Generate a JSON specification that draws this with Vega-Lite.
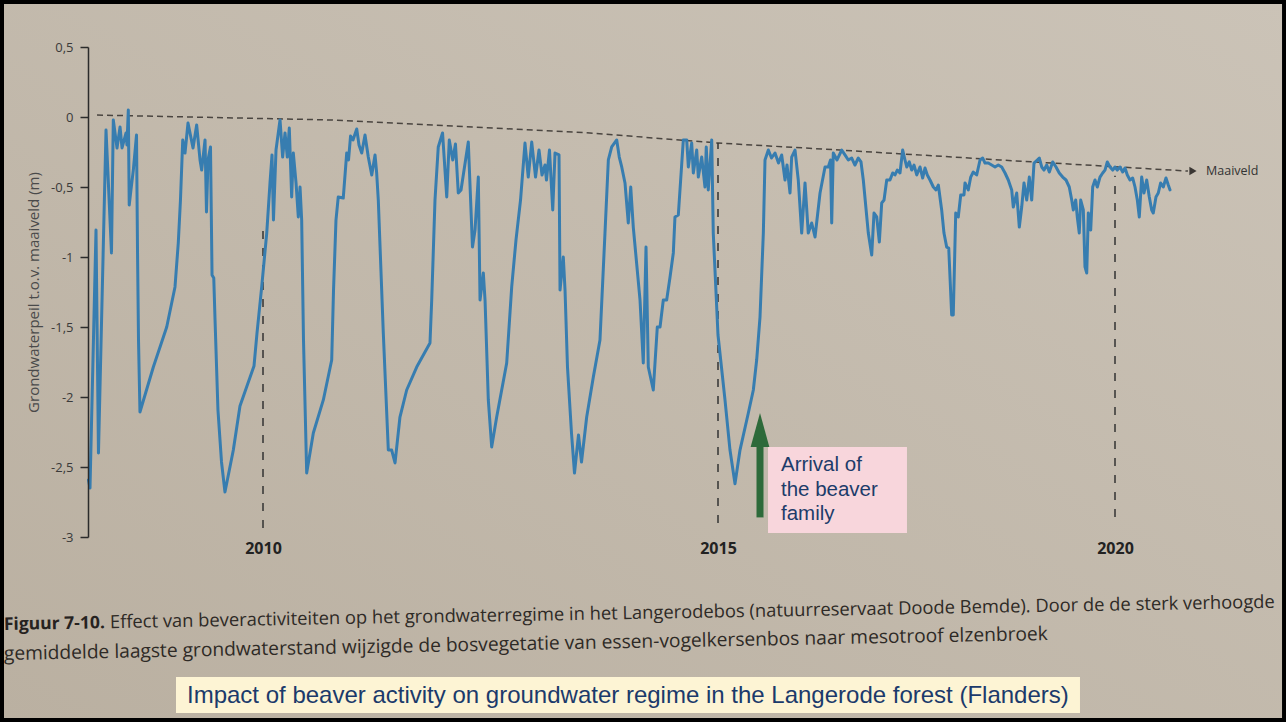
{
"$schema": "https://vega.github.io/schema/vega-lite/v6.json",
"width": 1182,
"height": 490,
"autosize": {"type": "none"},
"padding": {"left": 88, "top": 47, "right": 16, "bottom": 185},
"background": "#c3baad",
"config": {"view": {"stroke": null}, "axis": {"zindex": 1, "grid": false}, "font": "Open Sans"},
"datasets": {
"curve": [
{"year":2008.082,"level":-2.593},{"year":2008.099,"level":-2.65},{"year":2008.165,"level":-0.807},{"year":2008.192,"level":-2.4},{"year":2008.275,"level":-0.093},{"year":2008.335,"level":-0.971},{"year":2008.355,"level":-0.021},{"year":2008.396,"level":-0.221},{"year":2008.429,"level":-0.071},{"year":2008.451,"level":-0.221},{"year":2008.495,"level":-0.114},{"year":2008.505,"level":-0.2},{"year":2008.52,"level":0.05},{"year":2008.53,"level":-0.629},{"year":2008.549,"level":-0.521},{"year":2008.575,"level":-0.379},{"year":2008.61,"level":-0.129},{"year":2008.621,"level":-0.95},{"year":2008.632,"level":-1.593},{"year":2008.648,"level":-2.107},
{"year":2008.795,"level":-1.786},{"year":2008.942,"level":-1.5},{"year":2009.033,"level":-1.214},{"year":2009.069,"level":-0.9},{"year":2009.093,"level":-0.593},{"year":2009.118,"level":-0.164},{"year":2009.143,"level":-0.257},{"year":2009.176,"level":-0.043},{"year":2009.231,"level":-0.221},{"year":2009.271,"level":-0.057},{"year":2009.308,"level":-0.307},{"year":2009.326,"level":-0.379},{"year":2009.363,"level":-0.164},{"year":2009.379,"level":-0.679},{"year":2009.396,"level":-0.307},{"year":2009.423,"level":-0.214},{"year":2009.44,"level":-1.129},{"year":2009.459,"level":-1.15},{"year":2009.473,"level":-1.45},{"year":2009.505,"level":-2.093},{"year":2009.544,"level":-2.464},{"year":2009.582,"level":-2.679},
{"year":2009.674,"level":-2.379},{"year":2009.747,"level":-2.064},{"year":2009.821,"level":-1.926},{"year":2009.901,"level":-1.779},{"year":2009.934,"level":-1.543},{"year":2009.986,"level":-1.212},{"year":2010.041,"level":-0.829},{"year":2010.077,"level":-0.471},{"year":2010.099,"level":-0.271},{"year":2010.115,"level":-0.736},{"year":2010.143,"level":-0.236},{"year":2010.187,"level":-0.021},{"year":2010.216,"level":-0.286},{"year":2010.242,"level":-0.114},{"year":2010.267,"level":-0.286},{"year":2010.289,"level":-0.079},{"year":2010.315,"level":-0.571},{"year":2010.333,"level":-0.257},{"year":2010.363,"level":-0.471},{"year":2010.388,"level":-0.714},{"year":2010.407,"level":-0.5},{"year":2010.425,"level":-0.736},{"year":2010.445,"level":-1.593},{"year":2010.48,"level":-2.543},
{"year":2010.553,"level":-2.257},{"year":2010.663,"level":-2.021},{"year":2010.755,"level":-1.736},{"year":2010.775,"level":-1.236},{"year":2010.802,"level":-0.736},{"year":2010.827,"level":-0.571},{"year":2010.882,"level":-0.579},{"year":2010.92,"level":-0.257},{"year":2010.94,"level":-0.307},{"year":2010.962,"level":-0.136},{"year":2010.989,"level":-0.164},{"year":2011.03,"level":-0.086},{"year":2011.055,"level":-0.2},{"year":2011.085,"level":-0.257},{"year":2011.121,"level":-0.129},{"year":2011.157,"level":-0.286},{"year":2011.195,"level":-0.414},{"year":2011.231,"level":-0.271},{"year":2011.249,"level":-0.4},{"year":2011.267,"level":-0.593},{"year":2011.322,"level":-1.543},{"year":2011.377,"level":-2.379},{"year":2011.414,"level":-2.379},{"year":2011.451,"level":-2.471},{"year":2011.505,"level":-2.143},{"year":2011.579,"level":-1.95},{"year":2011.689,"level":-1.786},{"year":2011.835,"level":-1.614},
{"year":2011.854,"level":-1.307},{"year":2011.89,"level":-0.593},{"year":2011.926,"level":-0.214},{"year":2011.973,"level":-0.114},{"year":2012.019,"level":-0.571},{"year":2012.047,"level":-0.164},{"year":2012.085,"level":-0.307},{"year":2012.115,"level":-0.193},{"year":2012.146,"level":-0.543},{"year":2012.176,"level":-0.521},{"year":2012.256,"level":-0.179},{"year":2012.302,"level":-0.929},{"year":2012.33,"level":-0.807},{"year":2012.366,"level":-0.429},{"year":2012.385,"level":-1.307},{"year":2012.421,"level":-1.114},{"year":2012.44,"level":-1.307},{"year":2012.476,"level":-2.021},{"year":2012.513,"level":-2.357},{"year":2012.568,"level":-2.143},{"year":2012.678,"level":-1.757},{"year":2012.733,"level":-1.214},{"year":2012.78,"level":-0.879},{"year":2012.83,"level":-0.593},{"year":2012.879,"level":-0.186},{"year":2012.915,"level":-0.429},{"year":2012.953,"level":-0.179},{"year":2012.995,"level":-0.429},{"year":2013.033,"level":-0.236},{"year":2013.066,"level":-0.414},{"year":2013.099,"level":-0.343},{"year":2013.115,"level":-0.45},{"year":2013.148,"level":-0.236},{"year":2013.184,"level":-0.664},{"year":2013.209,"level":-0.257},{"year":2013.253,"level":-0.271},{"year":2013.264,"level":-1.236},{"year":2013.3,"level":-1.0},{"year":2013.319,"level":-1.236},{"year":2013.346,"level":-1.786},{"year":2013.39,"level":-2.257},{"year":2013.423,"level":-2.543},{"year":2013.467,"level":-2.271},{"year":2013.5,"level":-2.464},{"year":2013.557,"level":-2.143},{"year":2013.63,"level":-1.857},{"year":2013.703,"level":-1.593},{"year":2013.758,"level":-0.829},{"year":2013.795,"level":-0.307},{"year":2013.832,"level":-0.214},{"year":2013.887,"level":-0.164},{"year":2013.915,"level":-0.286},{"year":2013.942,"level":-0.357},{"year":2013.978,"level":-0.471},{"year":2014.014,"level":-0.757},{"year":2014.041,"level":-0.5},{"year":2014.069,"level":-0.786},{"year":2014.143,"level":-1.307},{"year":2014.179,"level":-1.757},{"year":2014.209,"level":-0.929},{"year":2014.234,"level":-1.786},{"year":2014.289,"level":-1.95},{"year":2014.333,"level":-1.5},{"year":2014.363,"level":-1.5},{"year":2014.399,"level":-1.307},{"year":2014.436,"level":-1.307},{"year":2014.473,"level":-1.143},{"year":2014.509,"level":-0.971},{"year":2014.527,"level":-0.714},{"year":2014.564,"level":-0.7},{"year":2014.619,"level":-0.164},{"year":2014.656,"level":-0.164},{"year":2014.674,"level":-0.357},{"year":2014.711,"level":-0.186},{"year":2014.729,"level":-0.4},{"year":2014.766,"level":-0.236},{"year":2014.784,"level":-0.429},{"year":2014.821,"level":-0.286},{"year":2014.857,"level":-0.5},{"year":2014.871,"level":-0.214},{"year":2014.893,"level":-0.521},{"year":2014.931,"level":-0.164},{"year":2014.948,"level":-0.829},{"year":2015.0,"level":-1.557},
{"year":2015.088,"level":-2.021},{"year":2015.151,"level":-2.379},{"year":2015.214,"level":-2.62},{"year":2015.277,"level":-2.379},{"year":2015.382,"level":-2.114},{"year":2015.445,"level":-1.95},{"year":2015.487,"level":-1.736},{"year":2015.529,"level":-1.429},{"year":2015.571,"level":-0.829},{"year":2015.592,"level":-0.307},{"year":2015.634,"level":-0.236},{"year":2015.674,"level":-0.293},{"year":2015.718,"level":-0.257},{"year":2015.762,"level":-0.329},{"year":2015.802,"level":-0.271},{"year":2015.844,"level":-0.45},{"year":2015.869,"level":-0.343},{"year":2015.907,"level":-0.543},{"year":2015.928,"level":-0.286},{"year":2015.97,"level":-0.236},{"year":2016.011,"level":-0.45},{"year":2016.054,"level":-0.829},{"year":2016.096,"level":-0.471},{"year":2016.137,"level":-0.829},{"year":2016.18,"level":-0.757},{"year":2016.222,"level":-0.857},{"year":2016.285,"level":-0.543},{"year":2016.348,"level":-0.357},{"year":2016.389,"level":-0.357},{"year":2016.417,"level":-0.307},{"year":2016.432,"level":-0.757},{"year":2016.452,"level":-0.257},{"year":2016.499,"level":-0.307},{"year":2016.558,"level":-0.236},{"year":2016.599,"level":-0.271},{"year":2016.641,"level":-0.307},{"year":2016.684,"level":-0.293},{"year":2016.725,"level":-0.343},{"year":2016.767,"level":-0.293},{"year":2016.801,"level":-0.321},{"year":2016.83,"level":-0.45},{"year":2016.893,"level":-0.829},{"year":2016.936,"level":-0.986},{"year":2016.965,"level":-0.686},{"year":2016.999,"level":-0.714},{"year":2017.032,"level":-0.893},{"year":2017.062,"level":-0.614},{"year":2017.091,"level":-0.593},{"year":2017.125,"level":-0.45},{"year":2017.166,"level":-0.45},{"year":2017.2,"level":-0.4},{"year":2017.229,"level":-0.414},{"year":2017.258,"level":-0.379},{"year":2017.292,"level":-0.4},{"year":2017.326,"level":-0.236},{"year":2017.355,"level":-0.307},{"year":2017.377,"level":-0.357},{"year":2017.409,"level":-0.321},{"year":2017.44,"level":-0.379},{"year":2017.469,"level":-0.343},{"year":2017.503,"level":-0.414},{"year":2017.544,"level":-0.357},{"year":2017.578,"level":-0.436},{"year":2017.607,"level":-0.364},{"year":2017.636,"level":-0.414},{"year":2017.67,"level":-0.45},{"year":2017.712,"level":-0.5},{"year":2017.746,"level":-0.521},{"year":2017.775,"level":-0.486},{"year":2017.817,"level":-0.664},{"year":2017.846,"level":-0.829},{"year":2017.88,"level":-0.929},{"year":2017.906,"level":-0.936},{"year":2017.943,"level":-1.414},{"year":2017.963,"level":-1.414},{"year":2017.994,"level":-0.686},{"year":2018.026,"level":-0.714},{"year":2018.057,"level":-0.557},{"year":2018.098,"level":-0.557},{"year":2018.111,"level":-0.471},{"year":2018.152,"level":-0.521},{"year":2018.183,"level":-0.429},{"year":2018.215,"level":-0.393},{"year":2018.258,"level":-0.414},{"year":2018.3,"level":-0.307},{"year":2018.334,"level":-0.293},{"year":2018.363,"level":-0.329},{"year":2018.404,"level":-0.329},{"year":2018.447,"level":-0.343},{"year":2018.489,"level":-0.357},{"year":2018.53,"level":-0.343},{"year":2018.573,"level":-0.357},{"year":2018.615,"level":-0.4},{"year":2018.656,"level":-0.45},{"year":2018.699,"level":-0.521},{"year":2018.719,"level":-0.643},{"year":2018.762,"level":-0.543},{"year":2018.795,"level":-0.786},{"year":2018.825,"level":-0.643},{"year":2018.854,"level":-0.471},{"year":2018.888,"level":-0.593},{"year":2018.921,"level":-0.429},{"year":2018.951,"level":-0.593},{"year":2018.98,"level":-0.329},{"year":2019.021,"level":-0.307},{"year":2019.047,"level":-0.293},{"year":2019.077,"level":-0.357},{"year":2019.106,"level":-0.379},{"year":2019.14,"level":-0.343},{"year":2019.173,"level":-0.393},{"year":2019.215,"level":-0.321},{"year":2019.257,"level":-0.357},{"year":2019.298,"level":-0.4},{"year":2019.341,"level":-0.429},{"year":2019.383,"level":-0.45},{"year":2019.424,"level":-0.5},{"year":2019.455,"level":-0.593},{"year":2019.475,"level":-0.664},{"year":2019.505,"level":-0.593},{"year":2019.525,"level":-0.714},{"year":2019.55,"level":-0.829},{"year":2019.568,"level":-0.593},{"year":2019.601,"level":-0.664},{"year":2019.622,"level":-1.071},{"year":2019.644,"level":-1.114},{"year":2019.664,"level":-0.686},{"year":2019.694,"level":-0.807},{"year":2019.719,"level":-0.5},{"year":2019.748,"level":-0.45},{"year":2019.777,"level":-0.5},{"year":2019.811,"level":-0.429},{"year":2019.845,"level":-0.4},{"year":2019.874,"level":-0.379},{"year":2019.903,"level":-0.321},{"year":2019.937,"level":-0.357},{"year":2019.971,"level":-0.379},{"year":2020.0,"level":-0.357},{"year":2020.029,"level":-0.379},{"year":2020.063,"level":-0.357},{"year":2020.097,"level":-0.393},{"year":2020.126,"level":-0.364},{"year":2020.155,"level":-0.414},{"year":2020.189,"level":-0.45},{"year":2020.223,"level":-0.436},{"year":2020.252,"level":-0.5},{"year":2020.281,"level":-0.593},{"year":2020.306,"level":-0.714},{"year":2020.336,"level":-0.429},{"year":2020.365,"level":-0.543},{"year":2020.399,"level":-0.45},{"year":2020.432,"level":-0.571},{"year":2020.462,"level":-0.664},{"year":2020.482,"level":-0.686},{"year":2020.516,"level":-0.571},{"year":2020.545,"level":-0.543},{"year":2020.575,"level":-0.471},{"year":2020.608,"level":-0.5},{"year":2020.642,"level":-0.436},{"year":2020.671,"level":-0.486},{"year":2020.693,"level":-0.521}
],
"maaiveld": [{"year":2008.176,"level":0.014},{"year":2010.736,"level":-0.021},{"year":2013.593,"level":-0.114},{"year":2015,"level":-0.186},{"year":2016.537,"level":-0.236},{"year":2018.552,"level":-0.307},{"year":2020.919,"level":-0.386}],
"maaiveldArrow": [{"year":2020.982,"level":-0.386}],
"maaiveldLabel": [{"year":2021.146,"level":-0.386,"label":"Maaiveld"}],
"yearLines": [{"year":2010,"level":-2.936,"level2":-0.75},{"year":2015,"level":-2.9,"level2":-0.186},{"year":2020,"level":-2.857,"level2":-0.42}],
"page": [{"year":2007.11,"year2":2022.154,"level":0.836,"level2":-4.321}],
"beaverArrow": [{"year":2015.529,"level":-2.86,"level2":-2.33}],
"beaverHead": [{"year":2015.529,"level":-2.236}],
"pinkBox": [{"year":2015.63,"year2":2017.38,"level":-2.357,"level2":-2.971}],
"pinkText": [{"year":2015.793,"level":-2.486,"label":"Arrival of\nthe beaver\nfamily"}],
"captionBold": [{"year":2007.154,"level":-3.664,"label":"Figuur 7-10."}],
"caption1": [{"year":2008.319,"level":-3.651,"label":"Effect van beveractiviteiten op het grondwaterregime in het Langerodebos (natuurreservaat Doode Bemde). Door de de sterk verhoogde"}],
"caption2": [{"year":2007.154,"level":-3.879,"label":"gemiddelde laagste grondwaterstand wijzigde de bosvegetatie van essen-vogelkersenbos naar mesotroof elzenbroek"}],
"yellowBox": [{"year":2009.044,"year2":2019.559,"level":-4.0,"level2":-4.257}],
"impactText": [{"year":2009.165,"level":-4.136,"label":"Impact of beaver activity on groundwater regime in the Langerode forest (Flanders)"}]
},
"encoding": {
"x": {"field": "year", "type": "quantitative",
 "scale": {"domain": [2008.077, 2010, 2015, 2020, 2021.952], "range": [0, 175, 630, 1027, 1182], "nice": false, "zero": false},
 "axis": {"values": [2010, 2015, 2020], "format": "d", "domain": false, "ticks": false, "grid": false, "title": null, "labelFont": "Open Sans", "labelFontSize": 16, "labelFontWeight": "bold", "labelColor": "#222222", "labelPadding": 3, "zindex": 1}},
"y": {"field": "level", "type": "quantitative",
 "scale": {"domain": [-3, 0.5], "nice": false, "zero": false},
 "axis": {"values": [-3, -2.5, -2, -1.5, -1, -0.5, 0, 0.5], "labelExpr": "replace(datum.value + '', '.', ',')", "grid": false, "domainColor": "#2b2b2b", "domainWidth": 1.5, "tickColor": "#2b2b2b", "tickWidth": 1.5, "tickSize": 8, "labelPadding": 7, "labelFont": "Open Sans", "labelFontSize": 13, "labelColor": "#3a3a3a", "title": "Grondwaterpeil t.o.v. maaiveld (m)", "titleFont": "Open Sans", "titleFontSize": 15, "titleFontWeight": "normal", "titleColor": "#4a4a4a", "titlePadding": 9, "zindex": 1}}
},
"layer": [
{"data": {"name": "page"}, "mark": {"type": "rect", "fill": {"gradient": "linear", "x1": 1, "y1": 0, "x2": 0, "y2": 1, "stops": [{"offset": 0, "color": "#cbc3b7"}, {"offset": 1, "color": "#bab0a1"}]}, "stroke": "#000000", "strokeWidth": 8},
 "encoding": {"x2": {"field": "year2"}, "y2": {"field": "level2"}}},
{"data": {"name": "maaiveld"}, "mark": {"type": "line", "color": "#4a4540", "strokeWidth": 1.5, "strokeDash": [6, 4]}},
{"data": {"name": "maaiveldArrow"}, "mark": {"type": "point", "shape": "triangle-right", "filled": true, "size": 70, "color": "#3a3633", "opacity": 1}},
{"data": {"name": "maaiveldLabel"}, "mark": {"type": "text", "align": "left", "baseline": "middle", "font": "Open Sans", "fontSize": 12.5, "color": "#333333"}, "encoding": {"text": {"field": "label"}}},
{"data": {"name": "yearLines"}, "mark": {"type": "rule", "color": "#333333", "strokeWidth": 1.5, "strokeDash": [8, 9]}, "encoding": {"y2": {"field": "level2"}}},
{"data": {"name": "curve"}, "mark": {"type": "line", "color": "#377db0", "strokeWidth": 3, "strokeJoin": "round", "strokeCap": "round"}},
{"data": {"name": "beaverArrow"}, "mark": {"type": "rule", "color": "#2d6a3a", "strokeWidth": 7}, "encoding": {"y2": {"field": "level2"}}},
{"data": {"name": "beaverHead"}, "mark": {"type": "point", "shape": "M-0.55,1L0,-1L0.55,1Z", "filled": true, "size": 1156, "color": "#2d6a3a", "opacity": 1}},
{"data": {"name": "pinkBox"}, "mark": {"type": "rect", "color": "#f8d6dc"}, "encoding": {"x2": {"field": "year2"}, "y2": {"field": "level2"}}},
{"data": {"name": "pinkText"}, "mark": {"type": "text", "align": "left", "baseline": "middle", "lineBreak": "\n", "lineHeight": 24.5, "font": "Liberation Sans", "fontSize": 20.5, "color": "#1d3c6a"}, "encoding": {"text": {"field": "label"}}},
{"data": {"name": "captionBold"}, "mark": {"type": "text", "align": "left", "baseline": "alphabetic", "angle": 359, "font": "Open Sans", "fontWeight": "bold", "fontSize": 17.5, "color": "#26221f"}, "encoding": {"text": {"field": "label"}}},
{"data": {"name": "caption1"}, "mark": {"type": "text", "align": "left", "baseline": "alphabetic", "angle": 359, "font": "Open Sans", "fontSize": 18.35, "color": "#2e2a26"}, "encoding": {"text": {"field": "label"}}},
{"data": {"name": "caption2"}, "mark": {"type": "text", "align": "left", "baseline": "alphabetic", "angle": 358.9, "font": "Open Sans", "fontSize": 19.2, "color": "#2e2a26"}, "encoding": {"text": {"field": "label"}}},
{"data": {"name": "yellowBox"}, "mark": {"type": "rect", "color": "#fdf4d4"}, "encoding": {"x2": {"field": "year2"}, "y2": {"field": "level2"}}},
{"data": {"name": "impactText"}, "mark": {"type": "text", "align": "left", "baseline": "middle", "font": "Liberation Sans", "fontSize": 24, "color": "#1b3a6b"}, "encoding": {"text": {"field": "label"}}}
]
}
